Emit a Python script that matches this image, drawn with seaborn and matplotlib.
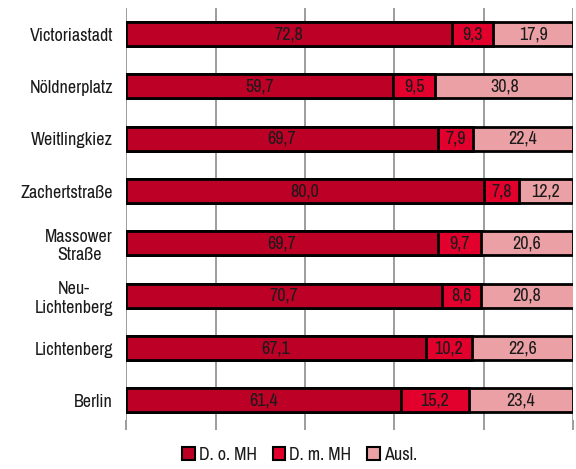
import numpy as np
import pandas as pd
import matplotlib
matplotlib.use("Agg")
import matplotlib.pyplot as plt
import seaborn as sns
from matplotlib import font_manager
from matplotlib.patches import Patch

areas = ["Victoriastadt", "Nöldnerplatz", "Weitlingkiez", "Zachertstraße",
         "Massower\nStraße", "Neu-\nLichtenberg", "Lichtenberg", "Berlin"]
d_o_mh = [72.8, 59.7, 69.7, 80.0, 69.7, 70.7, 67.1, 61.4]
d_m_mh = [9.3, 9.5, 7.9, 7.8, 9.7, 8.6, 10.2, 15.2]
ausl = [17.9, 30.8, 22.4, 12.2, 20.6, 20.8, 22.6, 23.4]
series = ["D. o. MH", "D. m. MH", "Ausl."]
colors = ["#BD0026", "#E2002D", "#EBA0A5"]

sns.set_style("white")

names = {f.name for f in font_manager.fontManager.ttflist}
wanted = ["Liberation Sans Narrow", "Arial Narrow", "Archivo Narrow"]
fam = next((n for n in wanted if n in names), "Liberation Sans")
plt.rcParams["font.family"] = [fam, "DejaVu Sans"]
plt.rcParams["font.weight"] = "light"

df = pd.DataFrame({"area": areas, "a": d_o_mh, "b": d_m_mh, "c": ausl})
df["ab"] = df["a"] + df["b"]
df["abc"] = df["ab"] + df["c"]

fig = plt.figure(figsize=(5.76, 4.69), dpi=100)
ax = fig.add_axes([0.219, 0.104, 0.776, 0.879])

for col, color in zip(["abc", "ab", "a"], colors[::-1]):
    sns.barplot(data=df, x=col, y="area", orient="h", color=color,
                edgecolor="black", linewidth=2, width=0.46, ax=ax,
                saturation=1, zorder=3)

fs = 13
lefts = np.zeros(len(areas))
for vals in [d_o_mh, d_m_mh, ausl]:
    for i, v in enumerate(vals):
        ax.text(lefts[i] + v / 2, i, f"{v:.1f}".replace(".", ","),
                ha="center", va="center", fontsize=fs, color="#1a1a1a", zorder=5)
    lefts += np.array(vals)

ax.set_xlim(0, 100)
ax.set_ylim(7.38, -0.5)
ax.set_xticks([0, 20, 40, 60, 80, 100])
ax.set_xticklabels([])
ax.xaxis.grid(True, color="#8c8c8c", linewidth=1.2)
ax.set_axisbelow(True)
ax.tick_params(axis="x", bottom=True, length=7, color="#8c8c8c", width=1.2)
ax.tick_params(axis="y", left=False, labelsize=fs, pad=6, labelcolor="#1a1a1a")
for lab in ax.get_yticklabels():
    lab.set_multialignment("center")
ax.set_xlabel("")
ax.set_ylabel("")
for s in ax.spines.values():
    s.set_visible(False)

handles = [Patch(facecolor=c, edgecolor="black", linewidth=1.5) for c in colors]
leg = fig.legend(handles, series, loc="center", bbox_to_anchor=(0.52, 0.03), ncol=3,
                 frameon=False, fontsize=fs, handlelength=0.7, handleheight=0.7,
                 handletextpad=0.2, columnspacing=0.9)
for t in leg.get_texts():
    t.set_color("#1a1a1a")

fig.savefig("out.png", dpi=100)
